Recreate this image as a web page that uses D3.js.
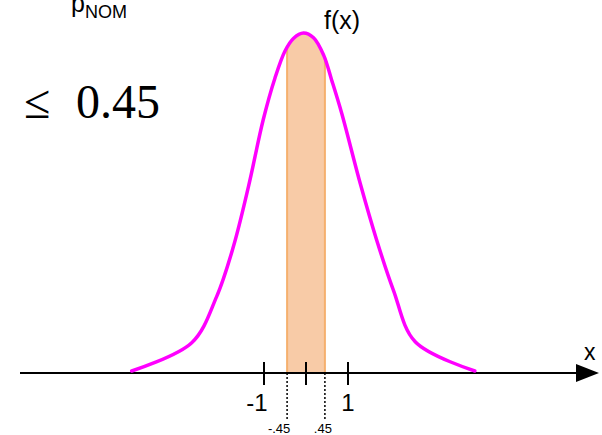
<!DOCTYPE html>
<html>
<head>
<meta charset="utf-8">
<script src="https://cdn.jsdelivr.net/npm/d3@7"></script>
<style>
  html, body { margin: 0; padding: 0; background: #fff; }
  svg { display: block; }
</style>
</head>
<body>
<svg id="chart" width="602" height="435"></svg>
<script>
// Density curve f(x), sampled points (x in axis units, height relative to peak)
const curveX = [-4.15, -2.72, -2.13, -1.73, -1.37, -1.02, -0.74, -0.50, -0.30, -0.06, 0.18, 0.42, 0.61, 0.85, 1.29, 1.68, 2.08, 2.60, 4.02];
const curveY = [0.006, 0.089, 0.224, 0.371, 0.548, 0.744, 0.867, 0.947, 0.984, 1.0, 0.986, 0.935, 0.862, 0.764, 0.558, 0.392, 0.244, 0.092, 0.006];

// Axis ticks and labels
const tickValues = [-1, 0, 1];
const tickLabels = ["-1", "", "1"];

// Shaded interval bounds and their labels
const bandBounds = [-0.45, 0.45];
const bandLabels = ["-.45", ".45"];

const svg = d3.select("#chart");

const x = d3.scaleLinear().domain([-6.9, 6.9]).range([16.2, 595.8]);
const y = d3.scaleLinear().domain([0, 1]).range([373, 33]);

const pts = curveX.map((v, i) => [v, curveY[i]]);
const smooth = d3.curveCatmullRom.alpha(0.5);

// clip region: area beneath the curve
const areaGen = d3.area()
  .x(d => x(d[0]))
  .y0(y(0))
  .y1(d => y(d[1]))
  .curve(smooth);

svg.append("defs").append("clipPath").attr("id", "under")
  .append("path").attr("d", areaGen(pts));

// shaded band between the bounds, under the curve
svg.append("rect")
  .attr("clip-path", "url(#under)")
  .attr("x", x(bandBounds[0]))
  .attr("y", y(1.05))
  .attr("width", x(bandBounds[1]) - x(bandBounds[0]))
  .attr("height", y(0) - y(1.05))
  .attr("fill", "#f8cba7")
  .attr("stroke", "#f5b06e")
  .attr("stroke-width", 2);

// dotted drop lines at the band bounds
svg.selectAll("line.drop").data(bandBounds).enter().append("line")
  .attr("class", "drop")
  .attr("x1", d => x(d)).attr("x2", d => x(d))
  .attr("y1", y(0)).attr("y2", 420)
  .attr("stroke", "#000")
  .attr("stroke-width", 1.5)
  .attr("stroke-dasharray", "2,2");

svg.selectAll("text.blab").data(bandLabels).enter().append("text")
  .attr("class", "blab")
  .attr("x", (d, i) => x(bandBounds[i]) + (i === 0 ? -8 : -2))
  .attr("y", 433)
  .attr("text-anchor", "middle")
  .attr("font-family", "Liberation Sans, Arial, sans-serif")
  .attr("font-size", 13)
  .text(d => d);

// x axis line with arrow head
svg.append("line")
  .attr("x1", 20).attr("x2", 580)
  .attr("y1", y(0)).attr("y2", y(0))
  .attr("stroke", "#000").attr("stroke-width", 2);

svg.append("path")
  .attr("d", `M576,${y(0) - 9} L599,${y(0)} L576,${y(0) + 9} Z`)
  .attr("fill", "#000");

// ticks
svg.selectAll("line.tick").data(tickValues).enter().append("line")
  .attr("class", "tick")
  .attr("x1", d => x(d)).attr("x2", d => x(d))
  .attr("y1", 362).attr("y2", 385)
  .attr("stroke", "#000").attr("stroke-width", 2);

svg.selectAll("text.tlab").data(tickValues).enter().append("text")
  .attr("class", "tlab")
  .attr("x", d => x(d) - (d < 0 ? 7 : 0))
  .attr("y", 411)
  .attr("text-anchor", "middle")
  .attr("font-family", "Liberation Sans, Arial, sans-serif")
  .attr("font-size", 24)
  .text((d, i) => tickLabels[i]);

// density curve
const lineGen = d3.line()
  .x(d => x(d[0]))
  .y(d => y(d[1]))
  .curve(smooth);

svg.append("path")
  .attr("d", lineGen(pts))
  .attr("fill", "none")
  .attr("stroke", "#ff00ff")
  .attr("stroke-width", 3.5)
  .attr("stroke-linejoin", "round")
  .attr("stroke-linecap", "round");

// labels
svg.append("text")
  .attr("x", 324).attr("y", 29)
  .attr("font-family", "Liberation Sans, Arial, sans-serif")
  .attr("font-size", 25)
  .text("f(x)");

svg.append("text")
  .attr("x", 584).attr("y", 360)
  .attr("font-family", "Liberation Sans, Arial, sans-serif")
  .attr("font-size", 23)
  .text("x");

const p = svg.append("text")
  .attr("x", 71).attr("y", 12)
  .attr("font-family", "Liberation Sans, Arial, sans-serif")
  .attr("font-size", 25);
p.append("tspan").text("p");
p.append("tspan").attr("dy", 6).attr("font-size", 18).text("NOM");

svg.append("text")
  .attr("x", 24).attr("y", 118)
  .attr("font-family", "Liberation Serif, Times New Roman, serif")
  .attr("font-size", 48)
  .text("\u2264");

svg.append("text")
  .attr("x", 76).attr("y", 118)
  .attr("font-family", "Liberation Serif, Times New Roman, serif")
  .attr("font-size", 48)
  .text("0.45");
</script>
</body>
</html>
